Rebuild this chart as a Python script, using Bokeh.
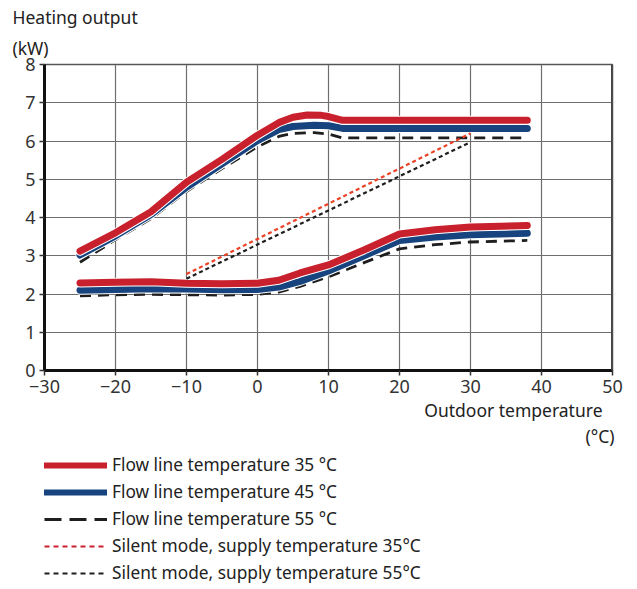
from bokeh.plotting import figure
from bokeh.models import Legend, LegendItem, Span, FixedTicker, Title
from bokeh.layouts import column
from bokeh.embed import file_html
from bokeh.resources import INLINE

# ---- data ----
x_ticks = [-30, -20, -10, 0, 10, 20, 30, 40, 50]
y_ticks = [0, 1, 2, 3, 4, 5, 6, 7, 8]

up35_x = [-25, -20, -15, -10, -5, 0, 3, 5, 7, 9, 10, 12, 20, 30, 38]
up35_y = [3.12, 3.6, 4.15, 4.92, 5.52, 6.15, 6.48, 6.62, 6.68, 6.67, 6.64, 6.54, 6.54, 6.54, 6.54]
up45_x = [-25, -20, -15, -10, -5, 0, 3, 5, 8, 10, 12, 20, 30, 38]
up45_y = [3.02, 3.52, 4.08, 4.79, 5.4, 6.01, 6.3, 6.38, 6.41, 6.4, 6.33, 6.33, 6.33, 6.33]
up55_x = [-25, -20, -15, -10, -5, 0, 3, 5, 8, 10, 12, 20, 30, 38]
up55_y = [2.83, 3.42, 3.97, 4.68, 5.28, 5.85, 6.12, 6.2, 6.22, 6.18, 6.08, 6.08, 6.08, 6.08]

lo_x = [-25, -20, -15, -10, -5, 0, 3, 6, 10, 15, 20, 25, 30, 38]
lo35_y = [2.29, 2.31, 2.32, 2.28, 2.27, 2.28, 2.36, 2.55, 2.76, 3.15, 3.57, 3.68, 3.75, 3.79]
lo45_y = [2.1, 2.12, 2.14, 2.13, 2.11, 2.12, 2.18, 2.33, 2.6, 3.0, 3.4, 3.49, 3.55, 3.59]
lo55_y = [1.95, 1.98, 1.99, 1.98, 1.97, 1.99, 2.05, 2.2, 2.45, 2.82, 3.18, 3.29, 3.36, 3.4]

silent_x = [-10, 30]
silent35_y = [2.52, 6.2]
silent55_y = [2.4, 5.97]

labels = [
    "Flow line temperature 35 °C",
    "Flow line temperature 45 °C",
    "Flow line temperature 55 °C",
    "Silent mode, supply temperature 35°C",
    "Silent mode, supply temperature 55°C",
]
y_title = ["Heating output", "(kW)"]
x_title = ["Outdoor temperature", "(°C)"]

RED = "#c8202c"
BLUE = "#17447f"
BLACK = "#1e1e1e"
ORANGE = "#ec4126"
FONT = "Noto Sans"
TXT = "#222222"

p = figure(width=637, height=449, x_range=(-30, 50), y_range=(0, 8),
           output_backend="svg", toolbar_location=None,
           min_border_left=44, min_border_right=25, min_border_top=64,
           min_border_bottom=79)

p.background_fill_color = "white"
p.border_fill_color = "white"
p.outline_line_color = "#555555"
p.outline_line_width = 1.5

p.xaxis.ticker = FixedTicker(ticks=x_ticks)
p.yaxis.ticker = FixedTicker(ticks=y_ticks)
p.xaxis.major_label_overrides = {t: (str(t).replace("-", "\u2212")) for t in x_ticks}
for ax in (p.xaxis, p.yaxis):
    ax.axis_line_color = "#111111"
    ax.axis_line_width = 3
    ax.major_tick_line_color = "#333333"
    ax.major_tick_line_width = 1.5
    ax.major_tick_out = 5
    ax.major_tick_in = 0
    ax.minor_tick_line_color = None
    ax.major_label_text_font = FONT
    ax.major_label_text_font_size = "18px"
    ax.major_label_text_color = "#333333"
    ax.major_label_standoff = 4

p.xgrid.grid_line_color = "#6e6e6e"
p.ygrid.grid_line_color = "#6e6e6e"
p.xgrid.grid_line_width = 1.2
p.ygrid.grid_line_width = 1.2

p.add_layout(Span(location=50, dimension="height", line_color="#444444", line_width=3))

p.line(up55_x, up55_y, line_color=BLACK, line_width=2.8, line_dash="11 7")
p.line(lo_x, lo55_y, line_color=BLACK, line_width=2.8, line_dash="11 7")
for xs, ys in [(up45_x, up45_y), (lo_x, lo45_y)]:
    p.line(xs, ys, line_color="white", line_width=9, line_cap="round", line_join="round")
    p.line(xs, ys, line_color=BLUE, line_width=7, line_cap="round", line_join="round")
for xs, ys in [(up35_x, up35_y), (lo_x, lo35_y)]:
    p.line(xs, ys, line_color="white", line_width=9, line_cap="round", line_join="round")
    p.line(xs, ys, line_color=RED, line_width=7, line_cap="round", line_join="round")
p.line(silent_x, silent35_y, line_color=ORANGE, line_width=2.2, line_dash="4 3")
p.line(silent_x, silent55_y, line_color=BLACK, line_width=2.2, line_dash="4 3")

# titles above
p.title.text = y_title[0]
p.title.align = "left"
p.title.offset = -32
p.title.standoff = 0
p.title.text_font = FONT
p.title.text_font_size = "17.5px"
p.title.text_font_style = "normal"
p.title.text_color = TXT
p.add_layout(Title(text=y_title[1], align="left", offset=-32, standoff=10,
                   text_font=FONT, text_font_size="17.5px", text_font_style="normal",
                   text_color=TXT), "above")

# titles below the x axis
p.add_layout(Title(text=x_title[0], align="right", offset=10, standoff=0,
                   text_font=FONT, text_font_size="17.5px", text_font_style="normal",
                   text_color=TXT), "below")
p.add_layout(Title(text=x_title[1], align="right", offset=-2, standoff=0,
                   text_font=FONT, text_font_size="17.5px", text_font_style="normal",
                   text_color=TXT), "below")

# ---- legend figure ----
lg = figure(width=637, height=140, x_range=(0, 1), y_range=(0, 1),
            output_backend="svg", toolbar_location=None,
            min_border=0, min_border_left=0, min_border_right=0,
            min_border_top=0, min_border_bottom=0)
lg.axis.visible = False
lg.grid.visible = False
lg.outline_line_color = None
lg.background_fill_color = "white"
lg.border_fill_color = "white"

nan = [float("nan")]
k35 = lg.line(nan, nan, line_color=RED, line_width=6, line_cap="round")
k45 = lg.line(nan, nan, line_color=BLUE, line_width=6, line_cap="round")
k55 = lg.line(nan, nan, line_color=BLACK, line_width=2.8, line_dash="17 8")
ks35 = lg.line(nan, nan, line_color=RED, line_width=2, line_dash="5 4")
ks55 = lg.line(nan, nan, line_color=BLACK, line_width=2, line_dash="5 4")

legend = Legend(items=[
    LegendItem(label=labels[0], renderers=[k35]),
    LegendItem(label=labels[1], renderers=[k45]),
    LegendItem(label=labels[2], renderers=[k55]),
    LegendItem(label=labels[3], renderers=[ks35]),
    LegendItem(label=labels[4], renderers=[ks55]),
], location=(0, 5), orientation="vertical")
legend.glyph_width = 63
legend.glyph_height = 20
legend.label_height = 20
legend.spacing = 4
legend.padding = 0
legend.margin = 0
legend.label_standoff = 5
legend.label_text_font = FONT
legend.label_text_font_size = "17.3px"
legend.label_text_color = TXT
legend.border_line_color = None
legend.background_fill_alpha = 0
lg.add_layout(legend, "center")

layout = column(p, lg, spacing=0)
open("out.html", "w").write(file_html(layout, INLINE))
